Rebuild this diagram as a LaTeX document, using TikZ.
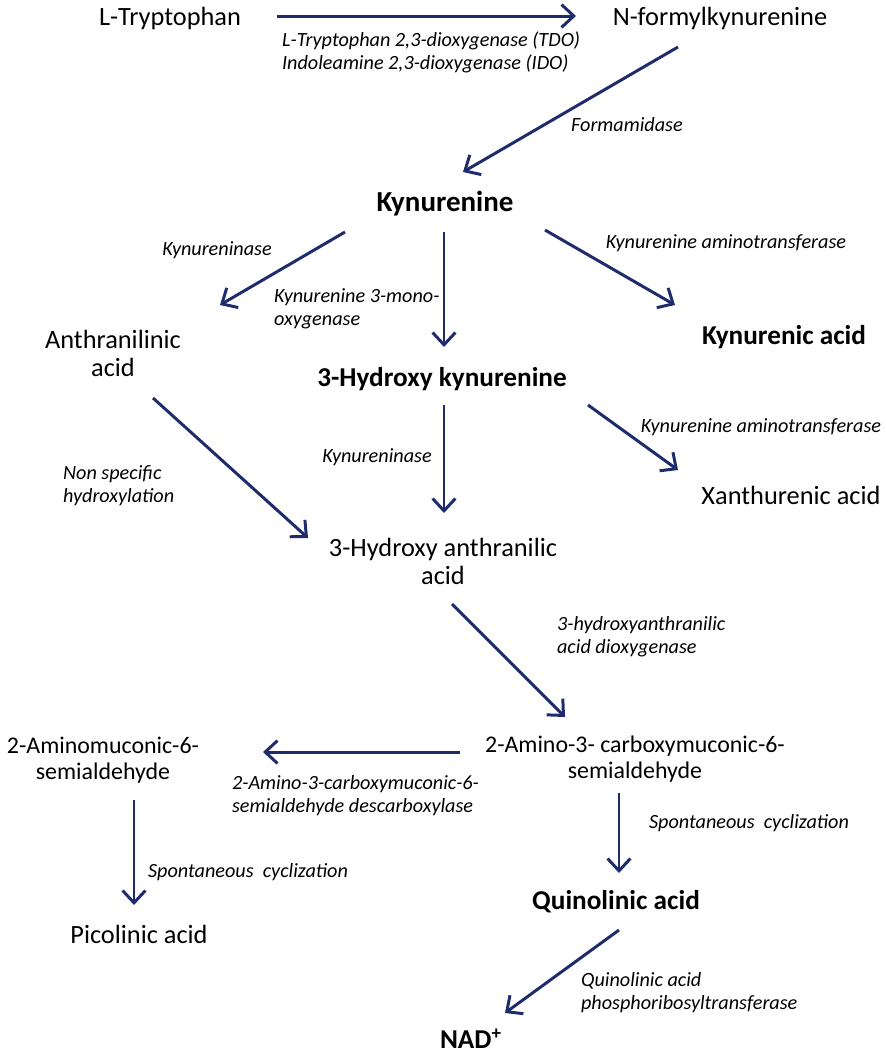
\documentclass[tikz,border=0pt]{standalone}
\usepackage{fontspec}
\setmainfont{Carlito}
\usetikzlibrary{arrows.meta, calc}
\definecolor{arrownavy}{RGB}{31, 44, 107}

\begin{document}
\begin{tikzpicture}[x=0.02cm, y=-0.02cm,
    met/.style={font=\fontsize{15}{16}\selectfont, align=center, inner sep=1pt},
    mets/.style={font=\fontsize{13.6}{15}\selectfont, align=center, inner sep=1pt},
    metb/.style={font=\fontsize{15.5}{16}\selectfont\bfseries, align=center, inner sep=1pt},
    enz/.style={font=\fontsize{11.5}{13}\selectfont\itshape, align=left, inner sep=1pt},
    arr/.style={draw=arrownavy, line width=1.7pt, -{Straight Barb[length=7pt, width=13pt]}}
]
    \useasboundingbox (0,0) rectangle (886,1056);

    % metabolites
    \node[met] (trp) at (170,18) {L-Tryptophan};
    \node[met] (nfk) at (720,18) {N-formylkynurenine};
    \node[metb, font=\fontsize{16.5}{18}\selectfont\bfseries] (kyn) at (445,204) {Kynurenine};
    \node[met] (anth) at (113,353) {Anthranilinic\\acid};
    \node[metb] (kyna) at (784,337) {Kynurenic acid};
    \node[metb] (hk) at (442,379) {3-Hydroxy kynurenine};
    \node[met] (xa) at (791,495) {Xanthurenic acid};
    \node[met] (haa) at (443,561) {3-Hydroxy anthranilic\\acid};
    \node[mets] (acms) at (635,759) {2-Amino-3- carboxymuconic-6-\\semialdehyde};
    \node[mets] (ams) at (103,760) {2-Aminomuconic-6-\\semialdehyde};
    \node[met] (pic) at (139,934) {Picolinic acid};
    \node[metb] (qa) at (616,902) {Quinolinic acid};
    \node[metb] (nad) at (471,1039) {NAD\textsuperscript{+}};

    % enzymes
    \node[enz, anchor=west] (tdo) at (280,52) {L-Tryptophan 2,3-dioxygenase (TDO)\\Indoleamine 2,3-dioxygenase (IDO)};
    \node[enz] (fmd) at (627,125) {Formamidase};
    \node[enz] (kynu1) at (217,250) {Kynureninase};
    \node[enz, anchor=west] (kmo) at (272,309) {Kynurenine 3-mono-\\oxygenase};
    \node[enz] (kat1) at (726,243) {Kynurenine aminotransferase};
    \node[enz] (kynu2) at (377,457) {Kynureninase};
    \node[enz] (kat2) at (761,427) {Kynurenine aminotransferase};
    \node[enz, anchor=west] (nsh) at (61,486) {Non specific\\hydroxylation};
    \node[enz, anchor=west] (haao) at (555,637) {3-hydroxyanthranilic\\acid dioxygenase};
    \node[enz, anchor=west] (acmsd) at (230,796) {2-Amino-3-carboxymuconic-6-\\semialdehyde descarboxylase};
    \node[enz, anchor=west] (sc1) at (146,872) {Spontaneous~ cyclization};
    \node[enz, anchor=west] (sc2) at (647,823) {Spontaneous~ cyclization};
    \node[enz, anchor=west] (qprt) at (579,993) {Quinolinic acid\\phosphoribosyltransferase};

    % reactions
    \draw[arr] ($(trp)+(107,-2)$) -- ($(nfk)+(-144,-2)$);
    \draw[arr] ($(nfk)+(-42,29)$) -- ($(kyn)+(18,-32)$);
    \draw[arr] ($(kyn)+(-100,28)$) -- ($(anth)+(107,-48)$);
    \draw[arr] ($(kyn)+(-1,28)$) -- ($(hk)+(2,-32)$);
    \draw[arr] ($(kyn)+(100,26)$) -- ($(kyna)+(-109,-32)$);
    \draw[arr] ($(anth)+(40,45)$) -- ($(haa)+(-135,-23)$);
    \draw[arr] ($(hk)+(2,26)$) -- ($(haa)+(1,-48)$);
    \draw[arr] ($(hk)+(146,26)$) -- ($(xa)+(-113,-25)$);
    \draw[arr] ($(haa)+(9,43)$) -- ($(acms)+(-70,-42)$);
    \draw[arr] ($(acms)+(-175,-7)$) -- ($(ams)+(160,-8)$);
    \draw[arr] ($(ams)+(31,40)$) -- ($(pic)+(-5,-29)$);
    \draw[arr] ($(acms)+(-16,34)$) -- ($(qa)+(3,-29)$);
    \draw[arr] ($(qa)+(3,28)$) -- ($(nad)+(34,-26)$);
\end{tikzpicture}
\end{document}
